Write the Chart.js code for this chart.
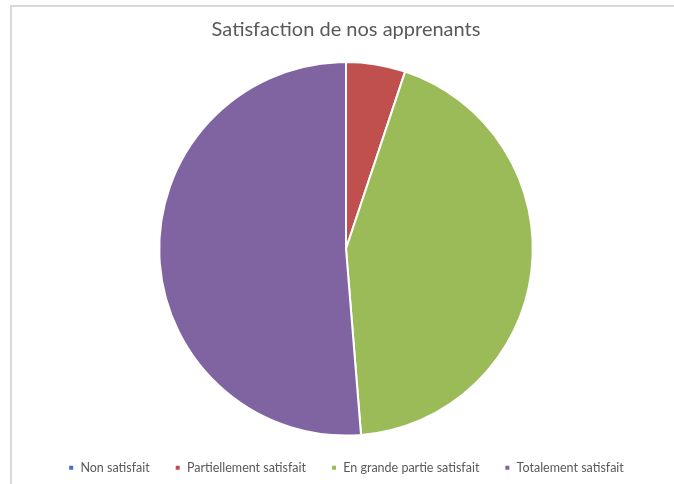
<!DOCTYPE html>
<html>
<head>
<meta charset="utf-8">
<script src="https://cdn.jsdelivr.net/npm/chart.js@4"></script>
<style>
html,body{margin:0;padding:0;background:#fff;overflow:hidden;}
#wrap{position:relative;width:674px;height:484px;overflow:hidden;}
#frame{position:absolute;left:10px;top:5px;width:800px;height:600px;border-left:2px solid #d9d9d9;border-top:2px solid #d9d9d9;box-sizing:border-box;}
#c{position:absolute;left:0;top:0;}
</style>
</head>
<body>
<div id="wrap">
<div id="frame"></div>
<canvas id="c" width="674" height="484"></canvas>
</div>
<script>
const titleText = "Satisfaction de nos apprenants";
const categories = ["Non satisfait", "Partiellement satisfait", "En grande partie satisfait", "Totalement satisfait"];
const values = [0, 2, 17, 20];
const colors = ["#4472C4", "#C0504D", "#9BBB59", "#8064A2"];

new Chart(document.getElementById('c'), {
  type: 'pie',
  data: {
    labels: categories,
    datasets: [{
      data: values,
      backgroundColor: colors,
      borderColor: '#ffffff',
      borderWidth: 2
    }]
  },
  options: {
    responsive: false,
    animation: false,
    layout: { padding: { left: 18, right: 0, top: 0, bottom: 0 } },
    plugins: {
      title: {
        display: true,
        text: titleText,
        color: '#595959',
        font: { family: 'Lato', size: 20, weight: 'normal', lineHeight: 1.2 },
        padding: { top: 18, bottom: 19 }
      },
      legend: {
        position: 'bottom',
        labels: {
          color: '#595959',
          font: { family: 'Lato', size: 12.5 },
          boxWidth: 6,
          boxHeight: 6,
          padding: 25
        }
      },
      tooltip: { enabled: false }
    }
  }
});
</script>
</body>
</html>
